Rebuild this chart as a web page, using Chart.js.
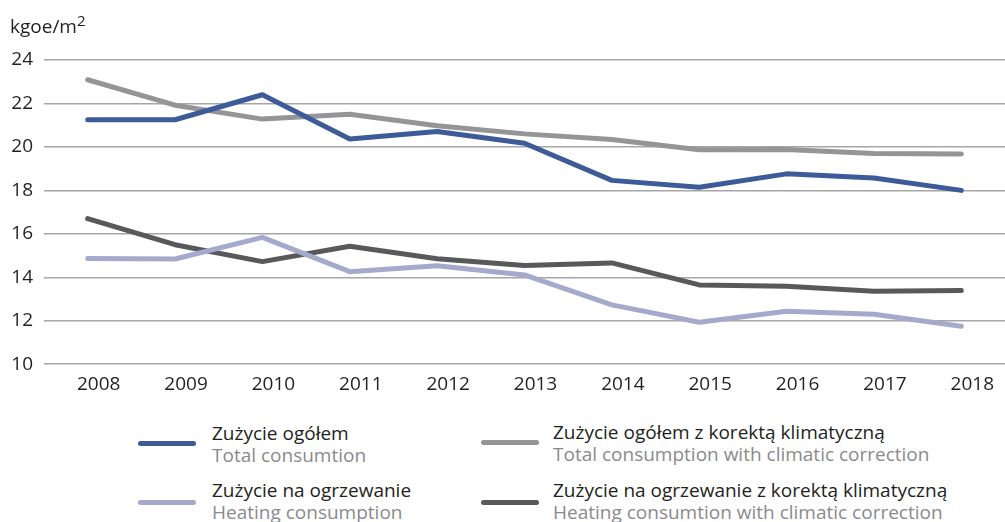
<!DOCTYPE html>
<html>
<head>
<meta charset="utf-8">
<script src="https://cdn.jsdelivr.net/npm/chart.js@4"></script>
<style>
  html, body { margin: 0; padding: 0; background: #fff; }
  body { width: 1005px; height: 522px; position: relative; overflow: hidden; font-family: "Open Sans", "Noto Sans", sans-serif; }
  #wrap { position: absolute; left: 0; top: 0; width: 1005px; height: 397px; }
  .unit { position: absolute; left: 10px; top: 14px; font-size: 19px; line-height: 24px; color: #231f20; }
  .unit sup { font-size: 15px; position: relative; top: -7px; vertical-align: baseline; }
  .leg { position: absolute; font-size: 19px; line-height: 18.5px; }
  .leg .sw { position: absolute; width: 58px; height: 5px; border-radius: 3px; }
  .leg .pl { color: #231f20; white-space: nowrap; }
  .leg .en { color: #8a8a8c; white-space: nowrap; margin-top: 3px; }
</style>
</head>
<body>
<div id="wrap"><canvas id="c"></canvas></div>
<div class="unit">kgoe/m<sup>2</sup></div>
<div id="legend"></div>
<script>
const years = ['2008', '2009', '2010', '2011', '2012', '2013', '2014', '2015', '2016', '2017', '2018'];
const totalCons = [21.25, 21.25, 22.4, 20.36, 20.71, 20.17, 18.46, 18.14, 18.76, 18.57, 18.0];
const totalCorr = [23.09, 21.92, 21.28, 21.5, 20.97, 20.6, 20.34, 19.87, 19.88, 19.7, 19.67];
const heatCons = [14.86, 14.84, 15.84, 14.26, 14.53, 14.11, 12.73, 11.93, 12.44, 12.3, 11.75];
const heatCorr = [16.7, 15.5, 14.72, 15.43, 14.85, 14.54, 14.66, 13.65, 13.59, 13.36, 13.39];

const series = [
    { pl: 'Zużycie ogółem', en: 'Total consumtion', data: totalCons, color: '#3e5b99', col: 0, row: 0 },
    { pl: 'Zużycie ogółem z korektą klimatyczną', en: 'Total consumption with climatic correction', data: totalCorr, color: '#959598', col: 1, row: 0 },
    { pl: 'Zużycie na ogrzewanie', en: 'Heating consumption', data: heatCons, color: '#a5aacc', col: 0, row: 1 },
    { pl: 'Zużycie na ogrzewanie z korektą klimatyczną', en: 'Heating consumtion with climatic correction', data: heatCorr, color: '#58595b', col: 1, row: 1 }
];

// draw order: light ones first so darker lines sit on top
const order = [2, 0, 3, 1];

const ctx = document.getElementById('c');
const chart = new Chart(ctx, {
    type: 'line',
    data: {
        labels: years,
        datasets: order.map(i => ({
            label: series[i].pl,
            data: series[i].data,
            borderColor: series[i].color,
            backgroundColor: series[i].color,
            borderWidth: 5,
            borderCapStyle: 'round',
            borderJoinStyle: 'round',
            pointRadius: 0,
            tension: 0
        }))
    },
    options: {
        responsive: true,
        maintainAspectRatio: false,
        animation: false,
        layout: { padding: { top: 60, right: 0, left: 0, bottom: 0 } },
        plugins: { legend: { display: false }, tooltip: { enabled: false } },
        scales: {
            x: {
                offset: true,
                grid: { display: false },
                border: { display: false },
                ticks: { color: '#231f20', font: { family: 'Open Sans', size: 19 }, padding: 1, labelOffset: 11, maxRotation: 0 }
            },
            y: {
                min: 10,
                max: 24,
                afterFit: s => { s.width = 44; },
                grid: { color: '#a6a6a8', lineWidth: 1.5, drawTicks: false },
                border: { display: false },
                ticks: { stepSize: 2, color: '#231f20', font: { family: 'Open Sans', size: 19 }, padding: 11 }
            }
        }
    }
});

const legend = document.getElementById('legend');
series.forEach(s => {
    const left = s.col === 0 ? 138 : 481;
    const top = s.row === 0 ? 424 : 481;
    const el = document.createElement('div');
    el.className = 'leg';
    el.style.left = left + 'px';
    el.style.top = (top - (s.col === 1 && s.row === 0 ? 1 : 0)) + 'px';
    el.innerHTML = '<div class="sw" style="background:' + s.color + ';left:0;top:' + (s.row === 0 ? 17 : 19) + 'px"></div>' +
        '<div style="margin-left:' + (s.col === 0 ? 74 : 72) + 'px">' +
        '<div class="pl">' + s.pl + '</div><div class="en">' + s.en + '</div></div>';
    legend.appendChild(el);
});
</script>
</body>
</html>
